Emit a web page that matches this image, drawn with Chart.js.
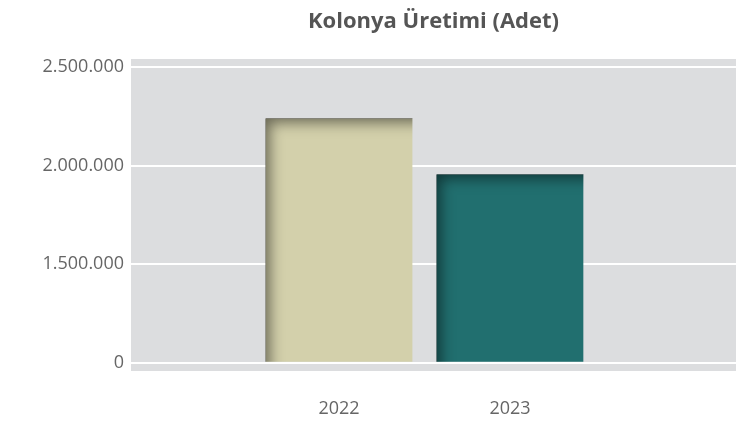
<!DOCTYPE html>
<html lang="tr">
<head>
<meta charset="utf-8">
<title>Kolonya Üretimi</title>
<script src="https://cdn.jsdelivr.net/npm/chart.js@4.4.1/dist/chart.umd.min.js"></script>
<style>
  html, body { margin: 0; padding: 0; background: #fff; }
  #wrap { width: 736px; height: 423px; }
</style>
</head>
<body>
<div id="wrap"><canvas id="chart" width="736" height="423"></canvas></div>
<script>
// Data
const YEARS = [2022, 2023];
const PRODUCTION = [2240000, 1955000];
const BAR_COLORS = ['#d3d0ab', '#216f6f'];
const Y_TICKS = [0, 1500000, 2000000, 2500000];

// share of one tick interval left empty above the top tick and below 0
const EDGE = 0.083;

function formatThousands(v) {
    return String(Math.round(v)).replace(/\B(?=(\d{3})+(?!\d))/g, '.');
}

/**
 * Value axis where every tick interval gets the same height,
 * so 0 -> 1.500.000 is as tall as 1.500.000 -> 2.000.000.
 */
class SegmentedScale extends Chart.LinearScale {
    determineDataLimits() {
        this.min = Y_TICKS[0];
        this.max = Y_TICKS[Y_TICKS.length - 1];
    }

    buildTicks() {
        return Y_TICKS.map(value => ({ value }));
    }

    toUnits(value) {
        const t = Y_TICKS;
        const n = t.length - 1;
        if (value <= t[0]) return (value - t[0]) / (t[1] - t[0]);
        for (let i = 1; i <= n; i++) {
            if (value <= t[i]) return i - 1 + (value - t[i - 1]) / (t[i] - t[i - 1]);
        }
        return n + (value - t[n]) / (t[n] - t[n - 1]);
    }

    fromUnits(u) {
        const t = Y_TICKS;
        const n = t.length - 1;
        const i = Math.max(0, Math.min(n - 1, Math.floor(u)));
        return t[i] + (u - i) * (t[i + 1] - t[i]);
    }

    getPixelForValue(value) {
        if (value === null || value === undefined) return NaN;
        const n = Y_TICKS.length - 1;
        return this.getPixelForDecimal((this.toUnits(value) + EDGE) / (n + 2 * EDGE));
    }

    getValueForPixel(pixel) {
        const n = Y_TICKS.length - 1;
        return this.fromUnits(this.getDecimalForPixel(pixel) * (n + 2 * EDGE) - EDGE);
    }
}
SegmentedScale.id = 'segmented';
SegmentedScale.defaults = Chart.LinearScale.defaults;
Chart.register(SegmentedScale);

// grey plot background
const plotBackground = {
    id: 'plotBackground',
    beforeDraw(chart) {
        const { ctx, chartArea: a } = chart;
        ctx.save();
        ctx.fillStyle = '#dcdddf';
        ctx.fillRect(a.left, a.top, a.right - a.left, a.bottom - a.top);
        ctx.restore();
    }
};

// soft inner shadow along the top and left edge of each bar
const insetShadow = {
    id: 'insetShadow',
    afterDatasetsDraw(chart) {
        const ctx = chart.ctx;
        const pad = 80;
        chart.getDatasetMeta(0).data.forEach(bar => {
            const { x, y, base, width } = bar.getProps(['x', 'y', 'base', 'width'], true);
            const left = x - width / 2;
            const top = Math.min(y, base);
            const h = Math.abs(base - y);
            ctx.save();
            ctx.beginPath();
            ctx.rect(left, top, width, h);
            ctx.clip();
            // L-shaped block above and left of the bar; only its shadow lands inside
            ctx.beginPath();
            ctx.rect(left - pad, top - pad, width + 2 * pad, pad);
            ctx.rect(left - pad, top, pad, h + pad);
            ctx.shadowColor = 'rgba(0, 0, 0, 0.5)';
            ctx.shadowBlur = 14;
            ctx.shadowOffsetX = 4;
            ctx.shadowOffsetY = 4;
            ctx.fillStyle = '#000';
            ctx.fill();
            ctx.restore();
        });
    }
};

const tickFont = { family: "'Open Sans', sans-serif", size: 18 };

new Chart(document.getElementById('chart'), {
    type: 'bar',
    data: {
        datasets: [{
            data: YEARS.map((yr, i) => ({ x: yr, y: PRODUCTION[i] })),
            backgroundColor: BAR_COLORS,
            borderWidth: 0,
            categoryPercentage: 1,
            barPercentage: 0.858,
        }],
    },
    options: {
        responsive: false,
        animation: false,
        layout: { padding: 0 },
        plugins: {
            legend: { display: false },
            tooltip: { enabled: false },
            title: {
                display: true,
                fullSize: false,
                text: 'Kolonya Üretimi (Adet)',
                color: '#555',
                font: { family: "'Open Sans', sans-serif", size: 22, weight: 'bold' },
                padding: { top: 9, bottom: 23.6 },
            },
        },
        scales: {
            x: {
                type: 'linear',
                offset: false,
                min: 2020.783,
                max: 2024.322,
                afterBuildTicks: s => { s.ticks = YEARS.map(value => ({ value })); },
                afterFit: s => { s.height = 52; },
                grid: { display: false, drawTicks: false },
                border: { display: false },
                ticks: {
                    color: '#666',
                    font: tickFont,
                    padding: 27,
                    callback: v => String(v),
                },
            },
            y: {
                type: 'segmented',
                afterFit: s => { s.width = 131; },
                grid: { color: '#ffffff', lineWidth: 2, drawTicks: false },
                border: { display: false },
                ticks: {
                    color: '#666',
                    font: tickFont,
                    padding: 7,
                    callback: v => formatThousands(v),
                },
            },
        },
    },
    plugins: [plotBackground, insetShadow],
});
</script>
</body>
</html>
